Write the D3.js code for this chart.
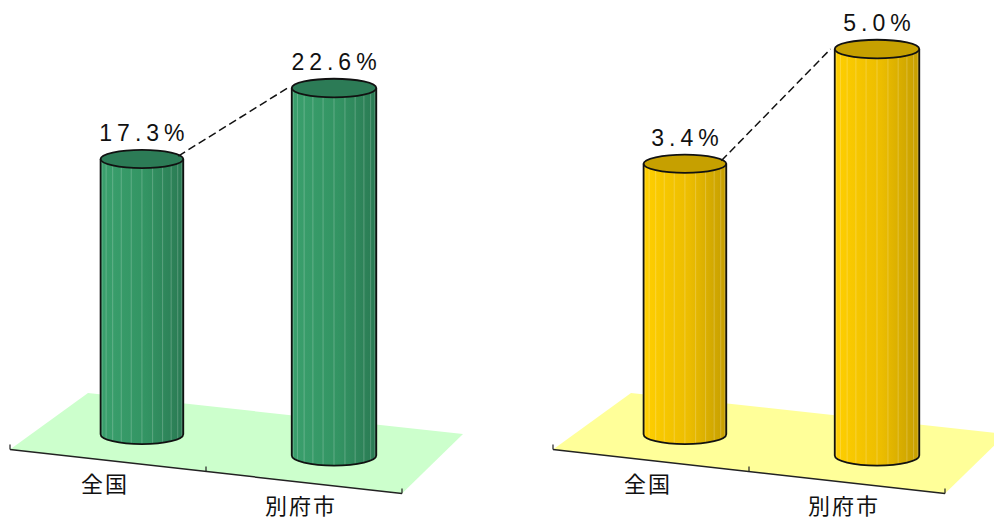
<!DOCTYPE html>
<html lang="ja">
<head>
<meta charset="UTF-8" />
<title>全国と別府市の比較</title>
<script src="https://cdn.jsdelivr.net/npm/d3@7"></script>
<style>
  body { margin: 0; background: #fff; }
  svg { display: block; }
  .val { font-family: "Liberation Sans", Arial, sans-serif; font-size: 23px; letter-spacing: 5px; fill: #111; }
  .cat { font-family: "Noto Sans CJK JP", sans-serif; font-size: 22px; letter-spacing: 2px; fill: #111; }
</style>
</head>
<body>
<script>
// data
const categories = ["全国", "別府市"];
const leftValues = [17.3, 22.6];
const rightValues = [3.4, 5.0];
const leftDomain = [0, 25];
const rightDomain = [0, 5];

const W = 994, H = 520;
const svg = d3.select("body").append("svg").attr("width", W).attr("height", H);

// floor corners of one panel (front-left, front-right, back-left, back-right)
const FL = [10, 449.5], FR = [402, 493.5], BL = [88, 393], BR = [463, 434];
const plotHeight = 402;
const depthPos = 0.46;

const lerp = (a, b, t) => [a[0] + (b[0] - a[0]) * t, a[1] + (b[1] - a[1]) * t];
function floorPt(u, v) {
  return lerp(lerp(FL, FR, u), lerp(BL, BR, u), v);
}

const panels = [
  { dx: 0, values: leftValues, domain: leftDomain, floor: "#ccffcc",
    body: ["#3aa06d", "#339463", "#2a7a53"], top: "#2c7b56", id: "g" },
  { dx: 543, values: rightValues, domain: rightDomain, floor: "#ffff99",
    body: ["#ffcf00", "#ecbd00", "#c59e00"], top: "#c6a000", id: "y" }
];

const defs = svg.append("defs");
const fmt = d => d3.format(".1f")(d) + "%";

panels.forEach(p => {
  const grad = defs.append("linearGradient").attr("id", "body-" + p.id)
    .attr("x1", 0).attr("x2", 1).attr("y1", 0).attr("y2", 0);
  grad.append("stop").attr("offset", "0%").attr("stop-color", p.body[0]);
  grad.append("stop").attr("offset", "55%").attr("stop-color", p.body[1]);
  grad.append("stop").attr("offset", "100%").attr("stop-color", p.body[2]);

  const g = svg.append("g").attr("transform", `translate(${p.dx},0)`);

  const band = d3.scaleBand().domain(categories).range([0, 1]);
  const y = d3.scaleLinear().domain(p.domain).range([0, plotHeight]);

  // floor
  g.append("path")
    .attr("d", "M" + [FL, FR, BR, BL].map(q => q.join(",")).join("L") + "Z")
    .attr("fill", p.floor);

  // category axis
  g.append("line")
    .attr("x1", FL[0]).attr("y1", FL[1]).attr("x2", FR[0]).attr("y2", FR[1])
    .attr("stroke", "#222").attr("stroke-width", 1.5);
  [0, 0.5, 1].forEach(u => {
    const q = floorPt(u, 0);
    g.append("line").attr("x1", q[0]).attr("y1", q[1]).attr("x2", q[0]).attr("y2", q[1] - 5)
      .attr("stroke", "#222").attr("stroke-width", 1.2);
  });

  const tops = [];
  categories.forEach((c, i) => {
    const u = band(c) + band.bandwidth() / 2;
    const persp = 1 + 0.044 * (u - 0.5);
    const base = floorPt(u, depthPos);
    const h = y(p.values[i]) * persp;
    const rx = 41.8 * persp;
    const ryT = rx * 0.22, ryB = rx * 0.24;
    const cx = base[0], by = base[1], ty = by - h;
    tops.push({ cx, ty, rx });

    // body
    g.append("path")
      .attr("d", `M${cx - rx},${ty} L${cx - rx},${by} A${rx},${ryB} 0 0 0 ${cx + rx},${by} L${cx + rx},${ty} A${rx},${ryT} 0 0 1 ${cx - rx},${ty} Z`)
      .attr("fill", `url(#body-${p.id})`);

    // facet stripes
    d3.range(1, 12).forEach(k => {
      const a = Math.PI * k / 12;
      const x = cx - rx * Math.cos(a);
      const s = Math.sin(a);
      g.append("line")
        .attr("x1", x).attr("y1", ty + ryT * s).attr("x2", x).attr("y2", by + ryB * s)
        .attr("stroke", "#fff").attr("stroke-opacity", 0.22).attr("stroke-width", 1);
    });

    g.append("path")
      .attr("d", `M${cx - rx},${ty} L${cx - rx},${by} A${rx},${ryB} 0 0 0 ${cx + rx},${by} L${cx + rx},${ty}`)
      .attr("fill", "none").attr("stroke", "#111").attr("stroke-width", 1.8);

    // top
    g.append("ellipse")
      .attr("cx", cx).attr("cy", ty).attr("rx", rx).attr("ry", ryT)
      .attr("fill", p.top).attr("stroke", "#111").attr("stroke-width", 1.8);

    // value label
    g.append("text").attr("class", "val")
      .attr("x", cx + 2.5).attr("y", ty - 18)
      .attr("text-anchor", "middle")
      .text(fmt(p.values[i]));

    // category label
    const a = floorPt(u, 0);
    g.append("text").attr("class", "cat")
      .attr("x", a[0] - 3).attr("y", a[1] + 31)
      .attr("text-anchor", "middle")
      .text(c);
  });

  // series line between bar tops
  const [t1, t2] = tops;
  g.append("line")
    .attr("x1", t1.cx + t1.rx * 0.88).attr("y1", t1.ty - 3)
    .attr("x2", t2.cx - t2.rx * 1.1).attr("y2", t2.ty)
    .attr("stroke", "#111").attr("stroke-width", 1.5).attr("stroke-dasharray", "8,4");
});
</script>
</body>
</html>
